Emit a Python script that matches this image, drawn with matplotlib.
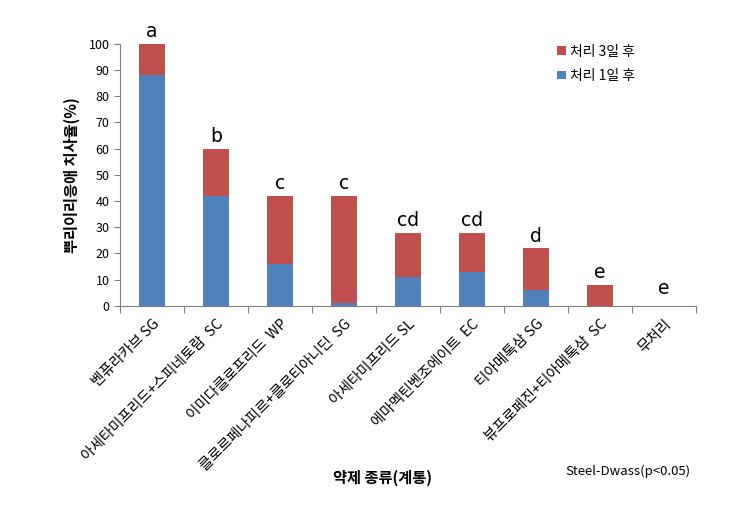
import matplotlib
matplotlib.use("Agg")
import matplotlib.pyplot as plt
import numpy as np

plt.rcParams['font.family'] = ['Noto Sans CJK KR', 'DejaVu Sans']

categories = ["벤퓨라카브 SG", "아세타미프리드+스피네토람  SC", "이미다클로프리드  WP",
              "클로르페나피르+클로티아니딘  SG", "아세타미프리드 SL", "에마멕틴벤조에이트  EC",
              "티아메톡삼 SG", "뷰프로페진+티아메톡삼  SC", "무처리"]
day1 = [88, 42, 16, 1, 11, 13, 6, 0, 0]
day3_extra = [12, 18, 26, 41, 17, 15, 16, 8, 0]
letters = ["a", "b", "c", "c", "cd", "cd", "d", "e", "e"]
yticks = [0, 10, 20, 30, 40, 50, 60, 70, 80, 90, 100]

fig = plt.figure(figsize=(7.36, 5.22), dpi=100)
ax = fig.add_axes([0.163, 0.414, 0.783, 0.502])
x = np.arange(len(categories))
blue = "#4F81BD"
red = "#C0504D"
b1 = ax.bar(x, day1, width=0.4, color=blue, label="처리 1일 후")
b3 = ax.bar(x, day3_extra, bottom=day1, width=0.4, color=red, label="처리 3일 후")

totals = np.array(day1) + np.array(day3_extra)
for xi, t, l in zip(x, totals, letters):
    ax.text(xi, t + 1.0 if t > 0 else 3, l, ha="center", va="bottom", fontsize=13.5,
            family=['DejaVu Sans'])

ax.set_xlim(-0.5, len(categories) - 0.5)
ax.set_ylim(0, 100)
ax.set_yticks(yticks)
ax.set_yticklabels([str(v) for v in yticks], fontsize=9)
ax.set_xticks(np.arange(-0.5, len(categories), 1.0))
ax.set_xticklabels([])
ax.set_xticks(x, minor=True)
ax.set_xticklabels(categories, minor=True, rotation=45, ha="right", rotation_mode="anchor", fontsize=10.5)
ax.tick_params(axis='x', which='minor', length=0, pad=8)
ax.tick_params(axis='x', which='major', length=5, direction='out', color='#808080')
ax.tick_params(axis='y', length=4, direction='out', color='#808080')
for s in ['top', 'right']:
    ax.spines[s].set_visible(False)
for s in ['left', 'bottom']:
    ax.spines[s].set_color('#808080')

ax.set_ylabel("뿌리이리응애 치사율(%)", fontsize=11, fontweight='bold', labelpad=6)
fig.text(0.52, 0.075, "약제 종류(계통)", ha="center", fontsize=11, fontweight='bold')
fig.text(0.853, 0.09, "Steel-Dwass(p<0.05)", ha="center", fontsize=9.5)

handles = [b3, b1]
ax.legend(handles, [h.get_label() for h in handles], loc="upper right", frameon=False,
          fontsize=10, handlelength=0.6, handleheight=0.6, handletextpad=0.3,
          labelspacing=0.75, bbox_to_anchor=(0.915, 1.045))

fig.savefig("out.png", dpi=100)
